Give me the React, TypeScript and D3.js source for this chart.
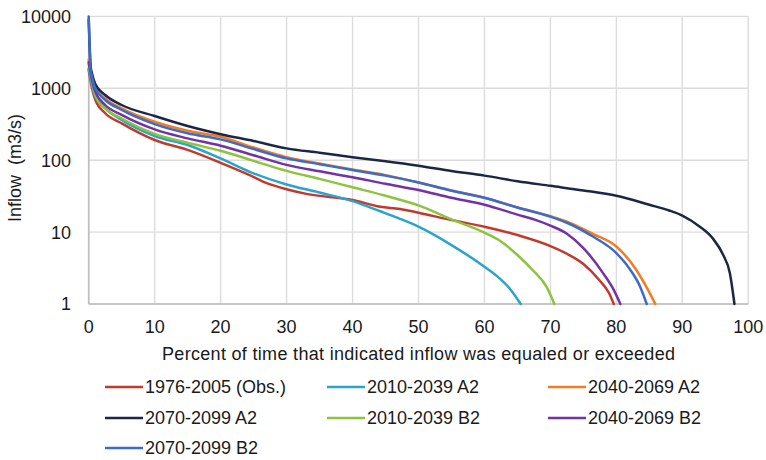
import React from "react";
import * as d3 from "d3";

const xTicks = [0, 10, 20, 30, 40, 50, 60, 70, 80, 90, 100];
const yTicks = [1, 10, 100, 1000, 10000];

const seriesNames = [
  "1976-2005 (Obs.)",
  "2010-2039 A2",
  "2040-2069 A2",
  "2070-2099 A2",
  "2010-2039 B2",
  "2040-2069 B2",
  "2070-2099 B2",
];
const seriesColors = ["#c23a2e", "#2ba4cd", "#f47c20", "#1b2744", "#8cc43f", "#7333a3", "#3b6ccb"];

const obsX = [0, 0.5, 1, 2.5, 5, 10, 15, 20, 24.4, 27, 30, 33, 40, 44.2, 47.2, 50, 55, 60, 65, 70, 72.5, 75, 77.4, 78.9, 79.6];
const obsY = [1800, 1000, 690, 450, 325, 191, 139, 92, 62, 48, 39.5, 34, 28, 22.5, 21, 18.6, 14.7, 11.9, 9.1, 6.4, 5.0, 3.6, 2.16, 1.41, 1];

const a2010X = [0, 0.5, 1, 2.5, 5, 10, 15, 20, 24.4, 30, 35, 40, 44.2, 47.2, 50, 55, 60, 62, 64, 65.5];
const a2010Y = [1900, 1100, 760, 527, 362, 217, 163, 106, 69, 46, 35.5, 27, 19.5, 15.3, 11.9, 6.6, 3.3, 2.4, 1.57, 1];

const a2040X = [0, 0.5, 1, 2.5, 5, 10, 15, 20, 25, 30, 35, 40, 45, 50, 55, 60, 65, 70, 72.5, 76.5, 80, 83, 84.8, 85.9];
const a2040Y = [2500, 1500, 1050, 723, 527, 343, 257, 212, 150, 110, 90, 74, 62, 49, 38, 30, 22, 16.6, 14, 9.4, 6.3, 3.0, 1.57, 1];

const a2070X = [0, 0.3, 0.5, 1, 2.5, 5, 10, 15, 20, 25, 30, 35, 40, 45, 50, 55, 60, 65, 70, 75, 80, 85, 88, 90, 92.6, 94.6, 96.2, 97.2, 97.9];
const a2070Y = [9000, 2000, 1600, 1150, 807, 586, 412, 299, 230, 185, 146, 127, 110, 97, 84, 71, 61, 51, 44, 38, 32, 24, 20, 17, 12, 8.2, 4.8, 2.7, 1];

const b2010X = [0, 0.5, 1, 2.5, 5, 10, 15, 20, 25, 30, 35, 40, 45, 50, 55, 60, 62.5, 65, 67.4, 69.4, 70.6];
const b2010Y = [2200, 1200, 800, 527, 380, 232, 175, 135, 98, 71, 55, 42, 32, 23.5, 15, 9.8, 7.4, 4.8, 2.9, 1.74, 1];

const b2040X = [0, 0.5, 1, 2.5, 5, 10, 15, 20, 25, 30, 35, 40, 45, 50, 55, 60, 65, 67.5, 70, 72.5, 75, 78, 79.6, 80.6];
const b2040Y = [2300, 1300, 900, 586, 427, 268, 201, 159, 117, 86, 70, 58, 47, 38.5, 30, 24, 17.5, 15, 12.3, 9.5, 6.0, 2.67, 1.57, 1];

const b2070X = [0, 0.3, 0.5, 1, 2.5, 5, 10, 15, 20, 25, 30, 35, 40, 45, 50, 55, 60, 65, 70, 72.5, 76.5, 80, 82.1, 83.6, 84.6];
const b2070Y = [10000, 1800, 1450, 1000, 687, 500, 318, 237, 195, 143, 106, 88, 73, 61, 49, 37.7, 30, 22, 16.4, 13.5, 8.6, 5.1, 3.0, 1.74, 1];

const seriesX = [obsX, a2010X, a2040X, a2070X, b2010X, b2040X, b2070X];
const seriesY = [obsY, a2010Y, a2040Y, a2070Y, b2010Y, b2040Y, b2070Y];

export default function App() {
  const W = 766;
  const H = 460;
  const left = 88.7;
  const right = 748.3;
  const top = 16.4;
  const bottom = 304;
  const x = d3.scaleLinear().domain([0, 100]).range([left, right]);
  const y = d3.scaleLog().domain([1, 10000]).range([bottom, top]);
  const line = d3
    .line<[number, number]>()
    .x((d) => x(d[0]))
    .y((d) => y(d[1]))
    .curve(d3.curveMonotoneX);

  const font = "'Liberation Sans', Arial, sans-serif";
  const textColor = "#1a1a1a";

  const legendCols = [105, 327, 548];
  const legendRows = [387, 418, 448];

  return (
    <svg
      width={W}
      height={H}
      style={{ position: "absolute", left: 0, top: 0, background: "#fff" }}
      fontFamily={font}
    >
      {/* grid */}
      {xTicks.map((t) => (
        <line key={"gx" + t} x1={x(t)} x2={x(t)} y1={top} y2={bottom} stroke="#dcdcdc" strokeWidth={1.4} />
      ))}
      {yTicks.map((t) => (
        <line key={"gy" + t} x1={left} x2={right} y1={y(t)} y2={y(t)} stroke="#dcdcdc" strokeWidth={1.4} />
      ))}
      {/* axes */}
      <line x1={left} x2={left} y1={top} y2={bottom} stroke="#bdbdbd" strokeWidth={1.6} />
      <line x1={left} x2={right} y1={bottom} y2={bottom} stroke="#bdbdbd" strokeWidth={1.6} />

      {/* series */}
      {seriesNames.map((name, i) => {
        const pts: [number, number][] = seriesX[i].map((v, j) => [v, seriesY[i][j]]);
        return (
          <path
            key={name}
            d={line(pts) || ""}
            fill="none"
            stroke={seriesColors[i]}
            strokeWidth={2.5}
            strokeLinejoin="round"
            strokeLinecap="round"
          />
        );
      })}

      {/* y tick labels */}
      {yTicks.map((t) => (
        <text
          key={"yl" + t}
          x={71}
          y={y(t)}
          dy="0.36em"
          textAnchor="end"
          fontSize={18}
          fill={textColor}
        >
          {t}
        </text>
      ))}
      {/* x tick labels */}
      {xTicks.map((t) => (
        <text key={"xl" + t} x={x(t)} y={332.5} textAnchor="middle" fontSize={18} fill={textColor}>
          {t}
        </text>
      ))}

      {/* axis titles */}
      <text x={418.5} y={359.5} textAnchor="middle" fontSize={18} fill={textColor} textLength={513} lengthAdjust="spacing">
        Percent of time that indicated inflow was equaled or exceeded
      </text>
      <text
        transform="translate(21,168) rotate(-90)"
        textAnchor="middle"
        fontSize={18}
        fill={textColor}
        style={{ whiteSpace: "pre" }}
      >
        {"Inflow  (m3/s)"}
      </text>

      {/* legend */}
      {seriesNames.map((name, i) => {
        const cx = legendCols[i % 3];
        const cy = legendRows[Math.floor(i / 3)];
        return (
          <g key={"lg" + name}>
            <line x1={cx} x2={cx + 38} y1={cy} y2={cy} stroke={seriesColors[i]} strokeWidth={2.5} />
            <text x={cx + 40} y={cy} dy="0.36em" fontSize={18} fill={textColor}>
              {name}
            </text>
          </g>
        );
      })}
    </svg>
  );
}
